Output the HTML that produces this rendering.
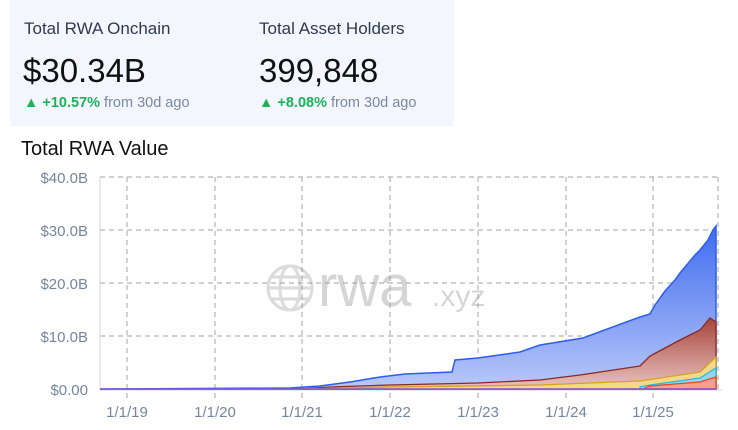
<!DOCTYPE html>
<html><head><style>
body{margin:0;width:738px;height:430px;background:#fff;font-family:"Liberation Sans",sans-serif;overflow:hidden;position:relative}
.panel{position:absolute;left:10px;top:0;width:444px;height:126px;background:#f3f6fd}
.t{position:absolute;font-size:17px;color:#2e3a4f}
.v{position:absolute;font-size:33px;color:#111}
.c{position:absolute;font-size:14.5px;color:#7a88a0}
.c b{color:#1fb25a}
</style></head><body>
<div class="panel"></div>
<div class="t" style="left:24px;top:19px">Total RWA Onchain</div>
<div class="t" style="left:259px;top:19px">Total Asset Holders</div>
<div class="v" style="left:23px;top:52px">$30.34B</div>
<div class="v" style="left:259px;top:52px">399,848</div>
<div class="c" style="left:24px;top:95px"><b>▲ +10.57%</b> from 30d ago</div>
<div class="c" style="left:259px;top:95px"><b>▲ +8.08%</b> from 30d ago</div>
<div style="position:absolute;left:21px;top:138px;font-size:20px;color:#111">Total RWA Value</div>
<svg width="738" height="430" style="position:absolute;left:0;top:0">
<defs>
<linearGradient id="gb" x1="0" y1="0" x2="0" y2="1"><stop offset="0" stop-color="#3f6cf0"/><stop offset="1" stop-color="#b9c8f8"/></linearGradient>
<linearGradient id="gr" x1="0" y1="0" x2="0" y2="1"><stop offset="0" stop-color="#a8453c"/><stop offset="1" stop-color="#e8c4c0"/></linearGradient>
</defs>
<g stroke="#b5b5b5" stroke-dasharray="5,4" stroke-width="1.2" fill="none">
<line x1="100" y1="177" x2="718" y2="177"/><line x1="100" y1="230" x2="718" y2="230"/><line x1="100" y1="283" x2="718" y2="283"/><line x1="100" y1="336" x2="718" y2="336"/>
<line x1="127" y1="177" x2="127" y2="400"/><line x1="215" y1="177" x2="215" y2="400"/><line x1="302" y1="177" x2="302" y2="400"/><line x1="390" y1="177" x2="390" y2="400"/><line x1="478" y1="177" x2="478" y2="400"/><line x1="566" y1="177" x2="566" y2="400"/><line x1="653" y1="177" x2="653" y2="400"/><line x1="718" y1="177" x2="718" y2="389"/>
</g>
<line x1="100" y1="177" x2="100" y2="390" stroke="#cfd6e4"/>
<line x1="100" y1="390" x2="722" y2="390" stroke="#cfd6e4"/>
<g font-size="15" fill="#7585a0">
<text x="88" y="183" text-anchor="end">$40.0B</text><text x="88" y="236" text-anchor="end">$30.0B</text><text x="88" y="289" text-anchor="end">$20.0B</text><text x="88" y="342" text-anchor="end">$10.0B</text><text x="88" y="395" text-anchor="end">$0.00</text>
<text x="127" y="417" text-anchor="middle">1/1/19</text><text x="215" y="417" text-anchor="middle">1/1/20</text><text x="302" y="417" text-anchor="middle">1/1/21</text><text x="390" y="417" text-anchor="middle">1/1/22</text><text x="478" y="417" text-anchor="middle">1/1/23</text><text x="566" y="417" text-anchor="middle">1/1/24</text><text x="653" y="417" text-anchor="middle">1/1/25</text>
</g>
<path d="M100 389 L290 388 L320 386 L350 382 L380 377 L405 374 L452 372 L455 360 L478 358 L520 352 L540 345 L583 338 L640 317 L650 314 L655 305 L665 291 L675 280 L680 273 L695 255 L700 250 L708 240 L713 230 L716 226 L716 389 Z" fill="url(#gb)" stroke="#2d5cf0" stroke-width="1.5"/>
<path d="M300 389 L330 387 L390 385 L478 383 L540 380 L580 375 L640 366 L650 356 L680 340 L700 330 L710 318 L716 322 L716 389 Z" fill="url(#gr)" stroke="#8a2a22" stroke-width="1.3"/>
<path d="M300 389 L390 387 L540 385 L640 381 L700 372 L716 357 L716 389 Z" fill="#f2d98a" stroke="#d9a020" stroke-width="1.3"/>
<path d="M640 387 L650 385 L700 378 L716 368 L716 389 L640 389Z" fill="#8fd8ef" stroke="#2ab8e0" stroke-width="1.2"/>
<path d="M645 388 L650 386 L700 382 L716 377 L716 389 L645 389Z" fill="#f5a090" stroke="#ee4422" stroke-width="1.2"/>
<line x1="100" y1="389" x2="716" y2="389" stroke="#8a55d8" stroke-width="1.5"/>
<g opacity="0.35" stroke="#999" fill="none" stroke-width="3">
<circle cx="290" cy="288" r="22"/><ellipse cx="290" cy="288" rx="10" ry="22"/><line x1="268" y1="288" x2="312" y2="288"/><line x1="271" y1="277" x2="309" y2="277"/><line x1="271" y1="299" x2="309" y2="299"/>
</g>
<text x="318" y="306" font-size="58" fill="#999" opacity="0.4">rwa</text>
<text x="432" y="306" font-size="30" fill="#999" opacity="0.4">.xyz</text>
</svg>
</body></html>
